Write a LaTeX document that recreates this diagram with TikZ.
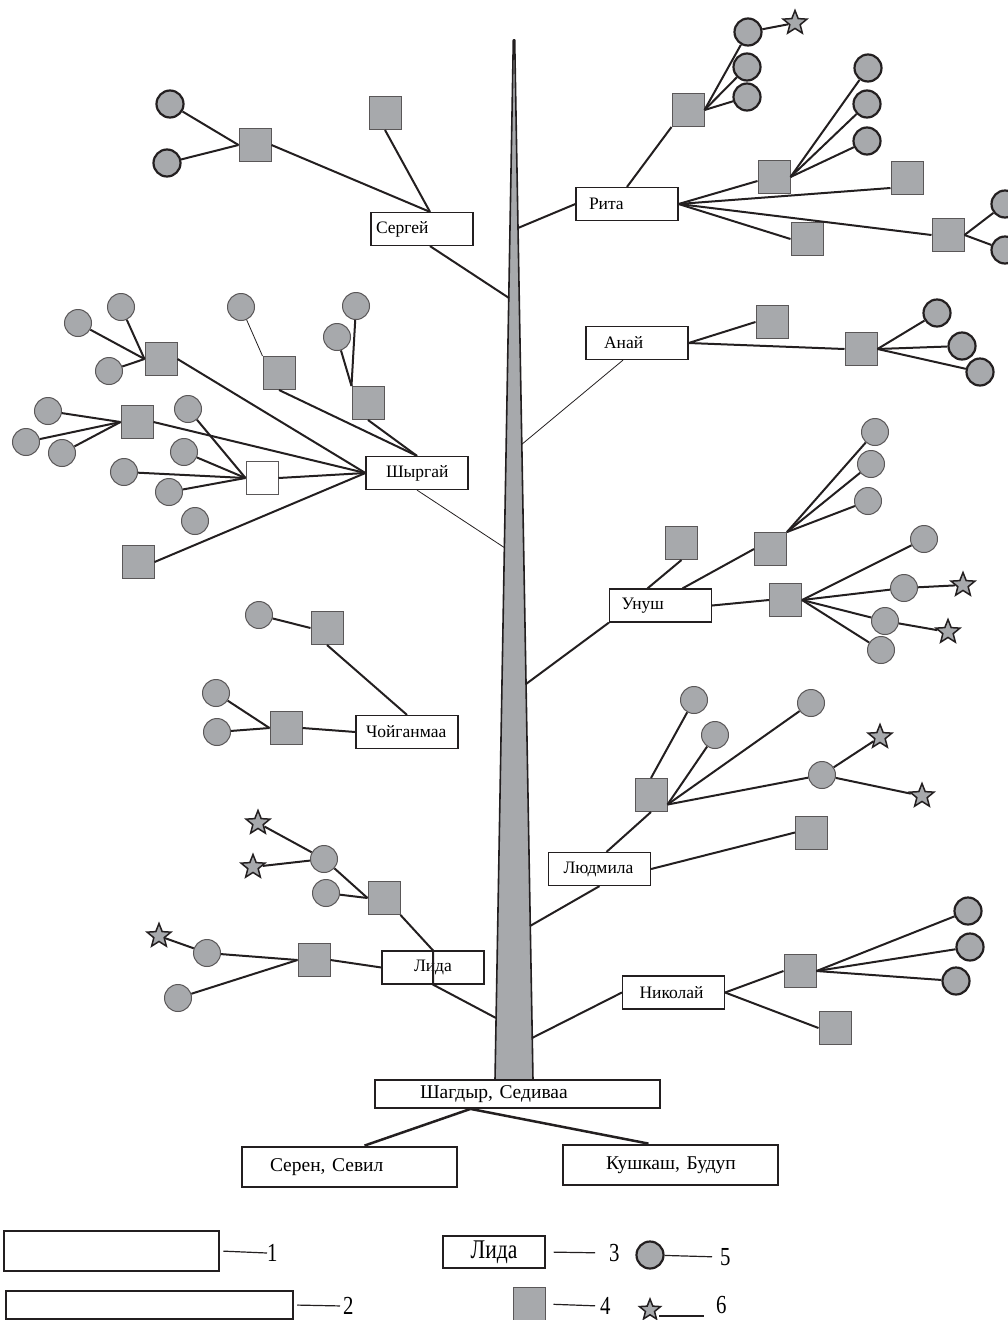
\documentclass[tikz,border=0pt]{standalone}
\usepackage{fontspec}
\usepackage{graphicx}
\setmainfont{Liberation Serif}
\usetikzlibrary{shapes.geometric,calc}
\definecolor{gf}{HTML}{A7A9AC}
\definecolor{ln}{HTML}{231F20}
\begin{document}
\begin{tikzpicture}[x=1pt,y=-1pt,
 conn/.style={draw=ln,line width=2pt},
 thinl/.style={draw=ln,line width=0.8pt},
 sq/.style={rectangle,draw=ln!75,fill=gf,line width=1pt,minimum width=32pt,minimum height=33pt,inner sep=0pt},
 sqw/.style={sq,fill=white},
 ci/.style={circle,draw=ln!75,fill=gf,line width=1pt,minimum size=27pt,inner sep=0pt},
 cit/.style={ci,draw=ln,line width=2.2pt},
 st/.style={star,star points=5,star point ratio=2.3,draw=ln,fill=gf,line width=1.5pt,minimum size=25pt,inner sep=0pt},
 nm/.style={rectangle,draw=ln,fill=white,line width=1.2pt,minimum height=33pt,text width=102pt,inner xsep=0pt,inner ysep=2pt,align=left,font=\fontsize{17.5}{20}\selectfont},
 bignm/.style={nm,font=\fontsize{19.5}{22}\selectfont},
 lgf/.style={font=\fontsize{26}{29}\selectfont,inner sep=0pt},
]
\path[use as bounding box] (0,0) rectangle (1008,1320);

% trunk
\draw[draw=ln,fill=gf,line width=1.6pt,line join=round] (513.3,40) -- (514.7,40) -- (533,1080) -- (495,1080) -- cycle;
\coordinate (tS) at (509,298);
\coordinate (tR) at (518,228);
\coordinate (tA) at (521,445);
\coordinate (tW) at (505,548);
\coordinate (tU) at (526,684);
\coordinate (tLu) at (530,926);
\coordinate (tN) at (532,1038);
\coordinate (tL) at (496,1018);

% ---------- Sergey
\node[nm] (Serg) at (422,229) {\hspace*{5pt}Сергей};
\node[sq] (S1) at (255,145) {};
\node[sq] (S2) at (385,113) {};
\node[cit] (C1) at (170,104) {};
\node[cit] (C2) at (167,163) {};
\draw[conn] (C1) -- (S1.west);
\draw[conn] (C2) -- (S1.west);
\draw[conn] (S1.east) -- ($(Serg.north)+(8,0)$);
\draw[conn] (S2.south) -- ($(Serg.north)+(8,0)$);
\draw[conn] ($(Serg.south)+(8,0)$) -- (tS);

% ---------- Rita
\node[nm] (Rita) at (627,204) {\hspace*{13pt}Рита};
\node[sq] (R1) at (688,110) {};
\node[cit] (Rc1) at (748,32) {};
\node[cit] (Rc2) at (747,67) {};
\node[cit] (Rc3) at (747,97) {};
\node[st] (Rs1) at (795,23) {};
\node[sq] (R2) at (774,177) {};
\node[cit] (Rc4) at (868,68) {};
\node[cit] (Rc5) at (867,104) {};
\node[cit] (Rc6) at (867,141) {};
\node[sq] (R3) at (907,178) {};
\node[sq] (R4) at (807,239) {};
\node[sq] (R5) at (948,235) {};
\node[cit] (Rc7) at (1005,204) {};
\node[cit] (Rc8) at (1005,250) {};
\draw[conn] (tR) -- (Rita.west);
\draw[conn] (Rita.north) -- (R1.south west);
\draw[conn] (R1.east) -- (Rc1);
\draw[conn] (R1.east) -- (Rc2);
\draw[conn] (R1.east) -- (Rc3);
\draw[conn] (Rc1) -- (Rs1);
\draw[conn] (Rita.east) -- ($(R2.west)+(0,4)$);
\draw[conn] (R2.east) -- (Rc4);
\draw[conn] (R2.east) -- (Rc5);
\draw[conn] (R2.east) -- (Rc6);
\draw[conn] (Rita.east) -- ($(R3.west)+(0,10)$);
\draw[conn] (Rita.east) -- (R4.west);
\draw[conn] (Rita.east) -- (R5.west);
\draw[conn] (R5.east) -- (Rc7);
\draw[conn] (R5.east) -- (Rc8);

% ---------- Anai
\node[nm] (Anai) at (637,343) {\hspace*{18pt}Анай};
\node[sq] (A1) at (772,322) {};
\node[sq] (A2) at (861,349) {};
\node[cit] (Ac1) at (937,313) {};
\node[cit] (Ac2) at (962,346) {};
\node[cit] (Ac3) at (980,372) {};
\draw[thinl] ($(Anai.south)+(-14,0)$) -- (tA);
\draw[conn] (Anai.east) -- (A1.west);
\draw[conn] (Anai.east) -- (A2.west);
\draw[conn] (A2.east) -- (Ac1);
\draw[conn] (A2.east) -- (Ac2);
\draw[conn] (A2.east) -- (Ac3);

% ---------- Shyrgai
\node[nm] (Shyr) at (417,473) {\hspace*{20pt}Шыргай};
\node[sq] (W1) at (161,359) {};
\node[ci] (Wc1) at (121,307) {};
\node[ci] (Wc2) at (78,323) {};
\node[ci] (Wc3) at (109,371) {};
\node[sq] (W2) at (279,373) {};
\node[ci] (Wc4) at (241,307) {};
\node[sq] (W3) at (368,403) {};
\node[ci] (Wc5) at (356,306) {};
\node[ci] (Wc6) at (337,337) {};
\node[sq] (W4) at (137,422) {};
\node[ci] (Wc7) at (48,411) {};
\node[ci] (Wc8) at (26,442) {};
\node[ci] (Wc9) at (62,453) {};
\node[sqw] (W5) at (262,478) {};
\node[ci] (Wc10) at (188,409) {};
\node[ci] (Wc11) at (184,452) {};
\node[ci] (Wc12) at (124,472) {};
\node[ci] (Wc13) at (169,492) {};
\node[ci] (Wc14) at (195,521) {};
\node[sq] (W6) at (138,562) {};
\draw[thinl] (Shyr.south) -- (tW);
\draw[conn] (Wc1) -- (W1.west);
\draw[conn] (Wc2) -- (W1.west);
\draw[conn] (Wc3) -- (W1.west);
\draw[conn] (W1.east) -- (Shyr.west);
\draw[thinl] (Wc4) -- (W2.north west);
\draw[conn] (W2.south) -- (Shyr.north);
\draw[conn] (Wc5) -- (W3.north west);
\draw[conn] (Wc6) -- (W3.north west);
\draw[conn] (W3.south) -- (Shyr.north);
\draw[conn] (Wc7) -- (W4.west);
\draw[conn] (Wc8) -- (W4.west);
\draw[conn] (Wc9) -- (W4.west);
\draw[conn] (W4.east) -- (Shyr.west);
\draw[conn] (Wc10) -- (W5.west);
\draw[conn] (Wc11) -- (W5.west);
\draw[conn] (Wc12) -- (W5.west);
\draw[conn] (Wc13) -- (W5.west);
\draw[conn] (W5.east) -- (Shyr.west);
\draw[conn] (W6.east) -- (Shyr.west);

% ---------- Chojganmaa
\node[nm] (Choj) at (407,732) {\hspace*{10pt}Чойганмаа};
\node[sq] (Ch1) at (327,628) {};
\node[ci] (Chc1) at (259,615) {};
\node[sq] (Ch2) at (286,728) {};
\node[ci] (Chc2) at (216,693) {};
\node[ci] (Chc3) at (217,732) {};
\draw[conn] (Chc1) -- (Ch1.west);
\draw[conn] (Ch1.south) -- (Choj.north);
\draw[conn] (Chc2) -- (Ch2.west);
\draw[conn] (Chc3) -- (Ch2.west);
\draw[conn] (Ch2.east) -- (Choj.west);

% ---------- Unush
\node[nm] (Un) at (660.5,605.5) {\hspace*{12pt}Унуш};
\node[sq] (U1) at (681.5,543) {};
\node[sq] (U2) at (770.5,549) {};
\node[ci] (Uc1) at (875,432) {};
\node[ci] (Uc2) at (871,464) {};
\node[ci] (Uc3) at (868,501) {};
\node[sq] (U3) at (785.5,600) {};
\node[ci] (Uc4) at (924,539) {};
\node[ci] (Uc5) at (904,588) {};
\node[ci] (Uc6) at (885,621) {};
\node[ci] (Uc7) at (881,650) {};
\node[st] (Us1) at (963,585) {};
\node[st] (Us2) at (948,632) {};
\draw[conn] (tU) -- (Un.south west);
\draw[conn] ($(Un.north)+(-13,0)$) -- (U1.south);
\draw[conn] ($(Un.north)+(22,0)$) -- (U2.west);
\draw[conn] (U2.north east) -- (Uc1);
\draw[conn] (U2.north east) -- (Uc2);
\draw[conn] (U2.north east) -- (Uc3);
\draw[conn] (Un.east) -- (U3.west);
\draw[conn] (U3.east) -- (Uc4);
\draw[conn] (U3.east) -- (Uc5);
\draw[conn] (U3.east) -- (Uc6);
\draw[conn] (U3.east) -- (Uc7);
\draw[conn] (Uc5) -- (Us1);
\draw[conn] (Uc6) -- (Us2);

% ---------- Ludmila
\node[nm] (Lud) at (599.5,869) {\hspace*{15pt}Людмила};
\node[sq] (Lu1) at (651,795) {};
\node[ci] (Luc1) at (694,700) {};
\node[ci] (Luc2) at (715,735) {};
\node[ci] (Luc3) at (811,703) {};
\node[ci] (Luc4) at (822,775) {};
\node[st] (Lus1) at (880,737) {};
\node[st] (Lus2) at (922,796) {};
\node[sq] (Lu2) at (811.5,832.5) {};
\draw[conn] (tLu) -- (Lud.south);
\draw[conn] ($(Lud.north)+(7,0)$) -- (Lu1.south);
\draw[conn] (Lu1.north) -- (Luc1);
\draw[conn] (Lu1.-30) -- (Luc2);
\draw[conn] (Lu1.-30) -- (Luc3);
\draw[conn] (Lu1.-30) -- (Luc4);
\draw[conn] (Luc4) -- (Lus1);
\draw[conn] (Luc4) -- (Lus2);
\draw[conn] (Lud.east) -- (Lu2.west);

% ---------- Lida
\node[nm] (Lida) at (433,967.5) {\hspace*{32pt}Лида};
\node[sq] (L1) at (384,898) {};
\node[ci] (Lc1) at (324,859) {};
\node[ci] (Lc2) at (326,893) {};
\node[st] (Ls1) at (258,823) {};
\node[st] (Ls2) at (253,867) {};
\node[sq] (L2) at (314,960) {};
\node[ci] (Lc3) at (207,953) {};
\node[ci] (Lc4) at (178,998) {};
\node[st] (Ls3) at (159,936) {};
\draw[conn] (tL) -- (Lida.south) -- (Lida.north) -- (L1.south east);
\draw[conn] (Lc1) -- (L1.west);
\draw[conn] (Lc2) -- (L1.west);
\draw[conn] (Lc1) -- (Ls1);
\draw[conn] (Lc1) -- (Ls2);
\draw[conn] (L2.east) -- (Lida.west);
\draw[conn] (Lc3) -- (L2.west);
\draw[conn] (Lc4) -- (L2.west);
\draw[conn] (Lc3) -- (Ls3);

% ---------- Nikolai
\node[nm] (Nik) at (673.5,992.5) {\hspace*{17pt}Николай};
\node[sq] (N1) at (800,971) {};
\node[sq] (N2) at (835,1028) {};
\node[cit] (Nc1) at (968,911) {};
\node[cit] (Nc2) at (970,947) {};
\node[cit] (Nc3) at (956,981) {};
\draw[conn] (tN) -- (Nik.west);
\draw[conn] (Nik.east) -- (N1.west);
\draw[conn] (Nik.east) -- (N2.west);
\draw[conn] (N1.east) -- (Nc1);
\draw[conn] (N1.east) -- (Nc2);
\draw[conn] (N1.east) -- (Nc3);

% ---------- bottom
\node[bignm,text width=285pt,minimum height=28pt,line width=1.8pt] (Shag) at (517.5,1094) {\hspace*{45pt}Шагдыр, Седиваа};
\node[bignm,text width=215pt,minimum height=40pt,line width=2.8pt] (Ser) at (349.5,1167) {\hspace*{28pt}Серен, Севил};
\node[bignm,text width=215pt,minimum height=40pt,line width=2.8pt] (Kush) at (670.5,1165) {\hspace*{43pt}Кушкаш, Будуп};
\draw[conn,line width=2.5pt] ($(Shag.south)+(-47,0)$) -- ($(Ser.north)+(15,0)$);
\draw[conn,line width=2.5pt] ($(Shag.south)+(-47,0)$) -- ($(Kush.north)+(-22,0)$);

% ---------- legend
\node[nm,text width=215pt,minimum height=40pt,line width=2.8pt] (Lg1) at (111.5,1251) {};
\node[lgf,anchor=west] (n1) at (267,1253) {\scalebox{0.8}[1]{1}};
\draw[conn,line width=1.2pt,shorten <=3pt] (Lg1.east) -- (n1.west);
\node[nm,text width=287pt,minimum height=28pt,line width=2.5pt] (Lg2) at (149.5,1305) {};
\node[lgf,anchor=west] (n2) at (343,1306) {\scalebox{0.8}[1]{2}};
\draw[conn,line width=1.2pt,shorten <=3pt,shorten >=3pt] (Lg2.east) -- (n2.west);
\node[nm,text width=102pt,minimum height=32pt,align=center,font=\fontsize{27}{30}\selectfont] (Lg3) at (494,1252) {\scalebox{0.8}[1]{Лида}};
\node[lgf,anchor=west] (n3) at (609,1253) {\scalebox{0.8}[1]{3}};
\draw[conn,line width=1.2pt,shorten <=8pt,shorten >=14pt] (Lg3.east) -- (n3.west);
\node[cit] (Lg5) at (650,1255) {};
\node[lgf,anchor=west] (n5) at (720,1257) {\scalebox{0.8}[1]{5}};
\draw[conn,line width=1.2pt,shorten >=8pt] (Lg5) -- (n5.west);
\node[sq] (Lg4) at (529,1304) {};
\node[lgf,anchor=west] (n4) at (600,1306) {\scalebox{0.8}[1]{4}};
\draw[conn,line width=1.2pt,shorten <=8pt,shorten >=5pt] (Lg4.east) -- (n4.west);
\node[st,minimum size=22pt] (Lg6) at (650,1310) {};
\node[lgf,anchor=west] (n6) at (716,1305) {\scalebox{0.8}[1]{6}};
\coordinate (l6a) at (659,1316);
\draw[conn,line width=1.2pt] (l6a) -- ($(n6.west)+(-12,11)$);
\end{tikzpicture}
\end{document}
